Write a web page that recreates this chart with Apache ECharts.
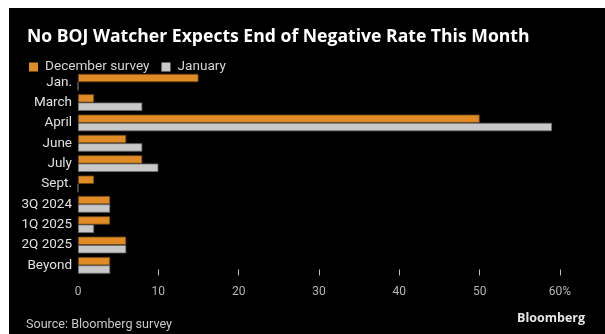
<!DOCTYPE html>
<html>
<head>
<meta charset="utf-8">
<script src="https://cdn.jsdelivr.net/npm/echarts@6/dist/echarts.min.js"></script>
<style>
  html, body { margin: 0; padding: 0; background: #fff; }
  #chart { width: 605px; height: 334px; }
</style>
</head>
<body>
<div id="chart"></div>
<script>
// Expected timing of the BOJ ending negative rates, share of economists surveyed (%)
const categories = ['Jan.', 'March', 'April', 'June', 'July', 'Sept.', '3Q 2024', '1Q 2025', '2Q 2025', 'Beyond'];
const decemberSurvey = [15, 2, 50, 6, 8, 2, 4, 4, 6, 4];
const januarySurvey = [0, 8, 59, 8, 10, 0, 4, 2, 6, 4];
const xTicks = [10, 20, 30, 40, 50, 60];

const FONT = 'Roboto';
const chart = echarts.init(document.getElementById('chart'), null, { renderer: 'canvas' });

chart.setOption({
  backgroundColor: '#fff',
  animation: false,
  graphic: [
    { type: 'rect', z: -1, shape: { x: 9, y: 8, width: 596, height: 326 }, style: { fill: '#000' } },
    {
      type: 'text', x: 585, y: 318,
      style: { text: 'Bloomberg', fill: '#e6e6e6', font: 'bold 12.5px "Open Sans"', align: 'right', verticalAlign: 'middle' }
    }
  ],
  title: [
    {
      text: 'No BOJ Watcher Expects End of Negative Rate This Month',
      left: 22, top: 23,
      textStyle: { color: '#fff', fontSize: 17.6, fontWeight: 'bold', fontFamily: 'Open Sans' }
    },
    {
      text: 'Source: Bloomberg survey',
      left: 21, top: 313,
      textStyle: { color: '#c8c8c8', fontSize: 12.6, fontWeight: 'normal', fontFamily: FONT }
    }
  ],
  legend: {
    left: 24, top: 55,
    itemWidth: 9, itemHeight: 9, itemGap: 12,
    icon: 'rect',
    itemStyle: { borderWidth: 0 },
    textStyle: { color: '#d4d4d4', fontSize: 13.6, fontFamily: FONT, padding: [0, 0, 0, 2] },
    data: ['December survey', 'January']
  },
  grid: { left: 78, right: 45, top: 72, height: 203.5, containLabel: false },
  xAxis: {
    type: 'value', min: 0, max: 60, interval: 10,
    axisLine: { show: false },
    splitLine: { show: false },
    axisTick: { show: true, inside: true, length: 6, customValues: xTicks, lineStyle: { color: '#bbb', width: 1 } },
    axisLabel: {
      color: '#b4b4b4', fontSize: 12, fontFamily: FONT, margin: 10,
      formatter: v => (v === 60 ? '60%' : String(v))
    }
  },
  yAxis: {
    type: 'category', data: categories, inverse: true,
    axisLine: { show: false },
    axisTick: { show: false },
    axisLabel: { color: '#e0e0e0', fontSize: 13.5, fontFamily: FONT, margin: 6 }
  },
  series: [
    {
      name: 'December survey', type: 'bar', data: decemberSurvey,
      barGap: '0%', barCategoryGap: '18%',
      itemStyle: { color: '#e08b26', borderColor: '#6b4512', borderWidth: 0.8 }
    },
    {
      name: 'January', type: 'bar', data: januarySurvey,
      barGap: '0%', barCategoryGap: '18%',
      itemStyle: { color: '#c8c8c8', borderColor: '#707070', borderWidth: 0.8 }
    }
  ]
});
</script>
</body>
</html>
